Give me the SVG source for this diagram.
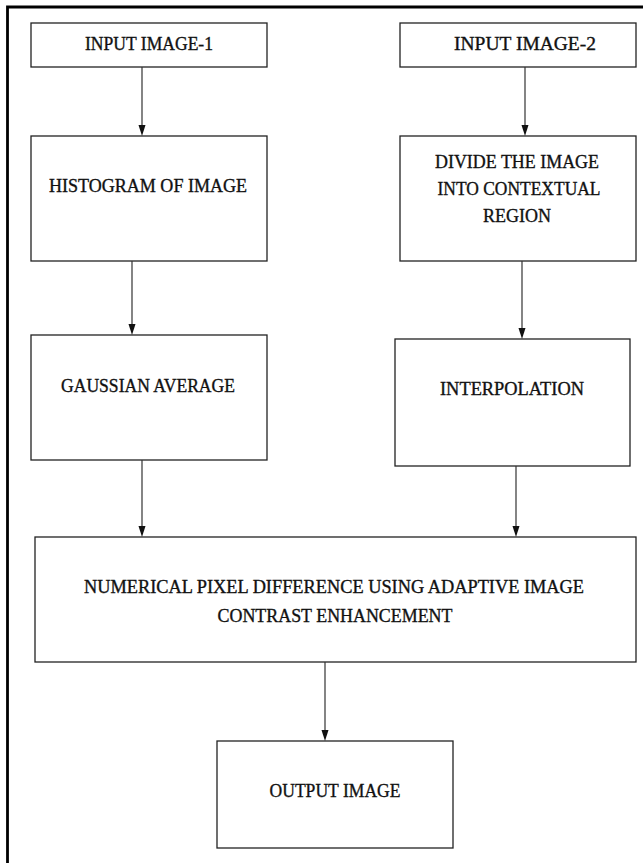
<svg xmlns="http://www.w3.org/2000/svg" width="643" height="863" viewBox="0 0 643 863">
<defs>
<style>
.box{fill:#fff;stroke:#222;stroke-width:1.3}
.t{font-family:"Liberation Serif","Times New Roman",serif;font-size:19px;fill:#111;stroke:#111;stroke-width:0.35;text-anchor:middle}
.ln{stroke:#333;stroke-width:1.2;fill:none}
.hd{fill:#111}
</style>
</defs>
<rect x="0" y="0" width="643" height="863" fill="#fff"/>
<path d="M7.5,863 L7.5,7 L643,7" fill="none" stroke="#000" stroke-width="2.8"/>
<g id="in1"><rect class="box" x="31" y="23" width="236" height="44"/><text class="t" x="149" y="50" textLength="128" lengthAdjust="spacingAndGlyphs">INPUT IMAGE-1</text></g>
<g id="in2"><rect class="box" x="400" y="23" width="236" height="44"/><text class="t" x="525" y="50" textLength="142" lengthAdjust="spacingAndGlyphs">INPUT IMAGE-2</text></g>
<g id="hist"><rect class="box" x="31" y="136" width="236" height="125"/><text class="t" x="148" y="192" textLength="198" lengthAdjust="spacingAndGlyphs">HISTOGRAM OF IMAGE</text></g>
<g id="divide"><rect class="box" x="400" y="136" width="236" height="125"/><text class="t" x="517" y="168" textLength="164" lengthAdjust="spacingAndGlyphs">DIVIDE THE IMAGE</text><text class="t" x="519" y="195" textLength="163" lengthAdjust="spacingAndGlyphs">INTO CONTEXTUAL</text><text class="t" x="517" y="222" textLength="68" lengthAdjust="spacingAndGlyphs">REGION</text></g>
<g id="gauss"><rect class="box" x="31" y="335" width="236" height="125"/><text class="t" x="148" y="392" textLength="174" lengthAdjust="spacingAndGlyphs">GAUSSIAN AVERAGE</text></g>
<g id="interp"><rect class="box" x="395" y="339" width="235" height="127"/><text class="t" x="512" y="395" textLength="144" lengthAdjust="spacingAndGlyphs">INTERPOLATION</text></g>
<g id="numerical"><rect class="box" x="35" y="537" width="601" height="125"/><text class="t" x="334" y="593" textLength="500" lengthAdjust="spacingAndGlyphs">NUMERICAL PIXEL DIFFERENCE USING ADAPTIVE IMAGE</text><text class="t" x="335" y="622" textLength="235" lengthAdjust="spacingAndGlyphs">CONTRAST ENHANCEMENT</text></g>
<g id="output"><rect class="box" x="217" y="741" width="236" height="107"/><text class="t" x="335" y="797" textLength="131" lengthAdjust="spacingAndGlyphs">OUTPUT IMAGE</text></g>
<g id="connectors">
<path class="ln" d="M142,67 L142,126"/><path class="hd" d="M138.5,125 L145.5,125 L142,136 Z"/>
<path class="ln" d="M525,67 L525,126"/><path class="hd" d="M521.5,125 L528.5,125 L525,136 Z"/>
<path class="ln" d="M132,261 L132,325"/><path class="hd" d="M128.5,324 L135.5,324 L132,335 Z"/>
<path class="ln" d="M522,261 L522,329"/><path class="hd" d="M518.5,328 L525.5,328 L522,339 Z"/>
<path class="ln" d="M142,460 L142,527"/><path class="hd" d="M138.5,526 L145.5,526 L142,537 Z"/>
<path class="ln" d="M516,466 L516,527"/><path class="hd" d="M512.5,526 L519.5,526 L516,537 Z"/>
<path class="ln" d="M325,662 L325,731"/><path class="hd" d="M321.5,730 L328.5,730 L325,741 Z"/>
</g>
</svg>
